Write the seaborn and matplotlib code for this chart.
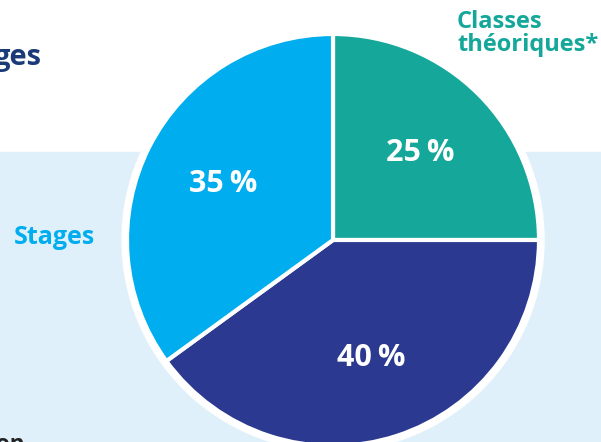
import matplotlib
matplotlib.use("Agg")
import matplotlib.pyplot as plt
import seaborn as sns
from matplotlib.patches import Circle, Rectangle

# data
categories = ["Classes\nthéoriques*", "", "Stages"]
shares = [25, 40, 35]
colors = ["#15a89a", "#2b3990", "#00adee"]

navy = "#1b3a78"
bg_blue = "#e0f0fa"

sns.set_theme(style="white")
plt.rcParams["font.family"] = ["Liberation Sans Narrow", "Open Sans", "DejaVu Sans"]

W, H = 601, 442
fig = plt.figure(figsize=(W / 100, H / 100), dpi=100)
ax = fig.add_axes([0, 0, 1, 1])

# light blue band behind the lower part
ax.add_patch(Rectangle((0, 0), W, H - 152, color=bg_blue, zorder=0))

cx, cy, r = 333, H - 240, 206
ax.add_patch(Circle((cx, cy), r + 5, color="white", zorder=1))

wedges, _, autotexts = ax.pie(
    shares, colors=colors, startangle=90, counterclock=False,
    center=(cx, cy), radius=r, frame=True,
    autopct=lambda p: f"{p:.0f}\u2009%", pctdistance=0.6,
    wedgeprops=dict(edgecolor="white", linewidth=3),
    textprops=dict(color="white", fontsize=22, fontweight="bold"),
)
for w in wedges:
    w.set_zorder(2)
for t in autotexts:
    t.set_zorder(3)
ax.set_xlim(0, W)
ax.set_ylim(0, H)
ax.set_aspect("equal")
ax.axis("off")

# category labels outside the pie
ax.text(457, H - 10, categories[0], color=colors[0], fontsize=17, fontweight="bold",
        ha="left", va="top", linespacing=0.92)
ax.text(14, H - 237, categories[2], color=colors[2], fontsize=18, fontweight="bold",
        ha="left", va="center")

# cropped bits of surrounding page text
ax.text(-6, H - 57, "ges", color=navy, fontsize=21, fontweight="bold",
        ha="left", va="center")
ax.text(-4, H - 434, "on", color="#222222", fontsize=16, fontweight="bold",
        ha="left", va="top")

fig.savefig("out.png", dpi=100)
